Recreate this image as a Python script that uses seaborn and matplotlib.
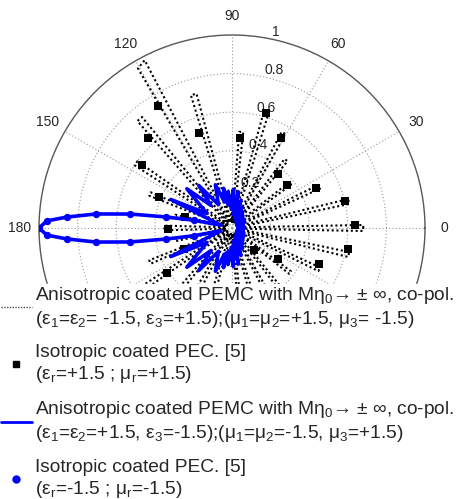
import numpy as np
import matplotlib
matplotlib.use("Agg")
import matplotlib.pyplot as plt
from matplotlib.lines import Line2D
import seaborn as sns

# anisotropic PEMC, case 1 (black dotted) - upper half, degrees / normalised RCS
pemc1_theta = [0, 1.3, 6.5, 11.6, 14.0, 19.0, 24.1, 26.5, 31.5, 36.3, 38.7, 44.5,
               50.3, 52.7, 56.5, 60.3, 62.7, 67.5, 72.3, 74.7, 79.0, 83.3, 85.7, 88.5,
               91.0, 93.0, 99.0, 104.8, 107.2, 112.0, 117.5, 120.5, 125.0, 129.0, 131.5, 138.0,
               144.8, 147.2, 152.0, 156.3, 158.7, 163.0, 166.8, 169.2, 173.5, 178.0, 180.0]
pemc1_r = [0.68, 0.68, 0.03, 0.62, 0.62, 0.03, 0.50, 0.50, 0.03, 0.38, 0.38, 0.03,
           0.45, 0.45, 0.03, 0.56, 0.56, 0.03, 0.63, 0.63, 0.03, 0.50, 0.50, 0.03,
           0.17, 0.17, 0.03, 0.72, 0.72, 0.03, 0.98, 0.96, 0.03, 0.74, 0.74, 0.03,
           0.60, 0.60, 0.03, 0.46, 0.46, 0.03, 0.30, 0.30, 0.03, 0.35, 0.35]

# isotropic coated PEC [5], eps=+1.5, mu=+1.5 (black squares)
iso1_theta = [1.4, 13.4, 25.5, 38.0, 49.6, 61.4, 73.5, 85.0, 109.2, 121.2, 133.0, 145.0,
              156.7, 166.8, 180.9, 203.6, 215.0, 315.0, 326.0, 337.5, 349.7]
iso1_r = [0.64, 0.60, 0.48, 0.36, 0.37, 0.53, 0.62, 0.47, 0.52, 0.74, 0.64, 0.57,
          0.41, 0.25, 0.33, 0.27, 0.41, 0.16, 0.29, 0.49, 0.61]

# anisotropic PEMC, case 2 (blue line) - upper half
pemc2_theta = [0, 4, 8, 12, 16, 20, 24, 28, 32, 36, 40, 44, 48, 52, 56, 60, 64, 68,
               72, 76, 80, 84, 88, 92, 96, 99, 102, 106, 111, 120, 128, 133, 139, 150,
               155, 166, 168.5, 170.5, 172.2, 174.1, 176.2, 177.8, 180]
pemc2_r = [0.06, 0.03, 0.06, 0.03, 0.06, 0.03, 0.065, 0.03, 0.07, 0.03, 0.075, 0.035,
           0.085, 0.04, 0.10, 0.04, 0.12, 0.05, 0.15, 0.06, 0.19, 0.07, 0.20, 0.10,
           0.19, 0.12, 0.21, 0.14, 0.24, 0.14, 0.28, 0.16, 0.31, 0.15,
           0.35, 0.06, 0.20, 0.347, 0.533, 0.708, 0.857, 0.96, 1.0]

# isotropic coated PEC [5], eps=-1.5, mu=-1.5 (blue dots) - upper half
iso2_theta = [168.5, 170.5, 172.2, 174.1, 176.2, 177.8, 180]
iso2_r = [0.20, 0.347, 0.533, 0.708, 0.857, 0.96, 1.0]

labels = [
    "Anisotropic coated PEMC with Mη$_0$→ ± ∞, co-pol.\n"
    "(ε$_1$=ε$_2$= -1.5, ε$_3$=+1.5);(μ$_1$=μ$_2$=+1.5, μ$_3$= -1.5)",
    "Isotropic coated PEC. [5]\n(ε$_r$=+1.5 ; μ$_r$=+1.5)",
    "Anisotropic coated PEMC with Mη$_0$→ ± ∞, co-pol.\n"
    "(ε$_1$=ε$_2$=+1.5, ε$_3$=-1.5);(μ$_1$=μ$_2$=-1.5, μ$_3$=+1.5)",
    "Isotropic coated PEC. [5]\n(ε$_r$=-1.5 ; μ$_r$=-1.5)",
]

sns.set_style("white")
plt.rcParams['font.family'] = ['Liberation Sans', 'DejaVu Sans']
plt.rcParams['mathtext.fontset'] = 'custom'
plt.rcParams['mathtext.rm'] = 'Liberation Sans'
plt.rcParams['mathtext.it'] = 'Liberation Sans'


def mirror(th, r):
    # pattern is symmetric about the 0-180 axis
    th = np.asarray(th, dtype=float)
    r = np.asarray(r, dtype=float)
    th_all = np.concatenate([th, 360 - th[::-1][1:]])
    r_all = np.concatenate([r, r[::-1][1:]])
    return np.deg2rad(th_all), r_all


fig = plt.figure(figsize=(4.6, 4.99), dpi=100)
ax = fig.add_axes([39/460, 78/499, 386/460, 386/499], projection='polar')

t, r = mirror(pemc1_theta, pemc1_r)
sns.lineplot(x=t, y=r, sort=False, estimator=None, ax=ax, color='k',
             lw=1.5, ls=(0, (1, 1.3)), zorder=2)

sns.scatterplot(x=np.deg2rad(iso1_theta), y=iso1_r, ax=ax, marker='s', color='k',
                s=26, linewidth=0, zorder=3)

t, r = mirror(pemc2_theta, pemc2_r)
sns.lineplot(x=t, y=r, sort=False, estimator=None, ax=ax, color='blue',
             lw=2.6, zorder=4)

t, r = mirror(iso2_theta, iso2_r)
sns.scatterplot(x=t, y=r, ax=ax, marker='o', color='blue', s=28, linewidth=0, zorder=5)

ax.set_ylim(0, 1)
ax.set_thetagrids(range(0, 360, 30), [str(a) for a in range(0, 360, 30)], fontsize=10)
ax.set_rgrids([0.2, 0.4, 0.6, 0.8, 1.0], ['0.2', '0.4', '0.6', '0.8', '1'], fontsize=10)
ax.set_rlabel_position(78)
ax.tick_params(axis='y', pad=0)
ax.grid(True, color='0.6', ls=(0, (1, 2)), lw=0.8)
ax.spines['polar'].set_color('0.35')
ax.spines['polar'].set_linewidth(1)
ax.set_xlabel('')
ax.set_ylabel('')

handles = [Line2D([], [], color='0.3', ls=(0, (1, 1)), lw=1),
           Line2D([], [], ls='none', marker='s', color='k', ms=4),
           Line2D([], [], color='blue', lw=2),
           Line2D([], [], ls='none', marker='o', color='blue', ms=5)]
leg = fig.legend(handles, labels, loc='upper left', bbox_to_anchor=(0, 1 - 284/499),
                 frameon=True, fontsize=13.8, handlelength=1.6, handletextpad=0.2,
                 labelspacing=0.74, borderpad=0.05, borderaxespad=0, fancybox=False,
                 framealpha=1, edgecolor='white')

fig.savefig("out.png", dpi=100)
